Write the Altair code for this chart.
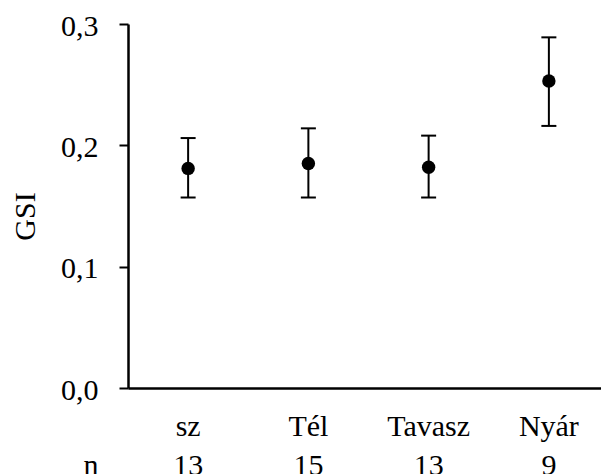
import altair as alt
import pandas as pd

seasons = ["sz", "Tél", "Tavasz", "Nyár"]
gsi_mean = [0.181, 0.185, 0.182, 0.253]
gsi_low = [0.157, 0.157, 0.157, 0.216]
gsi_high = [0.206, 0.214, 0.208, 0.289]
n_counts = ["13", "15", "13", "9"]
y_ticks = [0.0, 0.1, 0.2, 0.3]

df = pd.DataFrame({
    "season": seasons,
    "mean": gsi_mean,
    "low": gsi_low,
    "high": gsi_high,
    "n": n_counts,
})

FONT = "Liberation Serif"
FS = 30

xscale = alt.Scale(domain=seasons, range=[0, 481], paddingInner=0, paddingOuter=0)
yscale = alt.Scale(domain=[0, 0.3], nice=False, zero=True)

x_enc = alt.X("season:N", scale=xscale, sort=seasons,
              axis=alt.Axis(labels=False, ticks=False, title=None,
                            domainColor="black", domainWidth=2.5, grid=False))

y_axis = alt.Axis(values=y_ticks,
                  labelExpr="replace(format(datum.value, '.1f'), '.', ',')",
                  labelFont=FONT, labelFontSize=FS, labelColor="black",
                  labelPadding=21, labelBaseline="middle", labelOffset=2,
                  tickSize=9, tickWidth=2, tickColor="black",
                  domainColor="black", domainWidth=2.5, grid=False,
                  title="GSI", titleFont=FONT, titleFontSize=FS,
                  titleFontWeight="normal", titleColor="black",
                  titleAngle=270, titleX=-103, titleY=192,
                  titleAlign="center", titleBaseline="middle")

base = alt.Chart(df).encode(x=x_enc)

rules = base.mark_rule(color="black", strokeWidth=2).encode(
    y=alt.Y("low:Q", scale=yscale, axis=y_axis), y2="high:Q")
cap_lo = base.mark_tick(color="black", size=15, thickness=2, opacity=1).encode(
    y=alt.Y("low:Q", scale=yscale))
cap_hi = base.mark_tick(color="black", size=15, thickness=2, opacity=1).encode(
    y=alt.Y("high:Q", scale=yscale))
points = base.mark_circle(size=180, color="black", opacity=1).encode(
    y=alt.Y("mean:Q", scale=yscale))

cat_labels = base.mark_text(font=FONT, fontSize=FS, baseline="alphabetic",
                            color="black").encode(text="season:N", y=alt.value(412))
n_labels = base.mark_text(font=FONT, fontSize=FS, baseline="alphabetic",
                          color="black").encode(text="n:N", y=alt.value(451))
n_title = alt.Chart(pd.DataFrame({"t": ["n"]})).mark_text(
    font=FONT, fontSize=FS, baseline="alphabetic", color="black").encode(
    text="t:N", x=alt.value(-37), y=alt.value(451))

chart = alt.layer(rules, cap_lo, cap_hi, points, cat_labels, n_labels, n_title).properties(
    width=473, height=364,
    padding={"left": 128, "top": 24, "right": 0, "bottom": 86},
    autosize="none",
    background="white",
).configure_view(stroke=None)

chart.save("out.html", embed_options={"renderer": "svg", "actions": False})
